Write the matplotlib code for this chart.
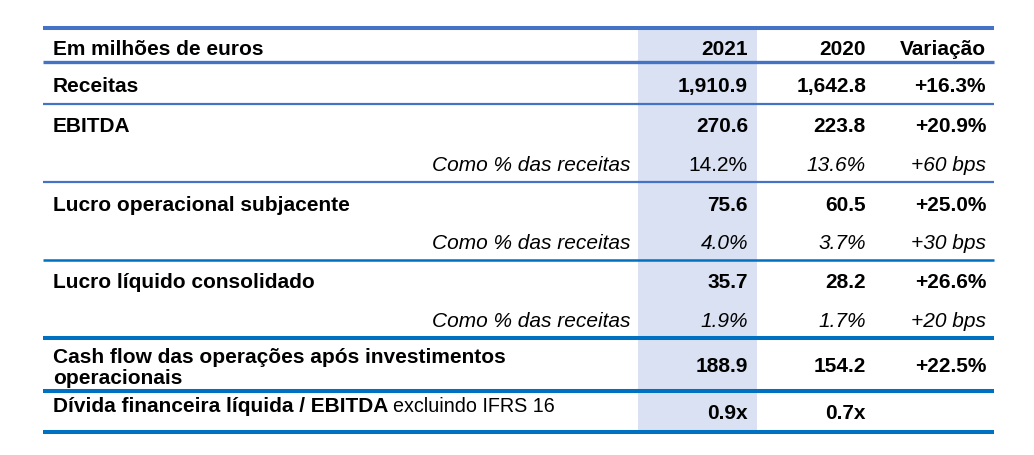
import matplotlib.pyplot as plt
from matplotlib.patches import Rectangle

plt.rcParams['font.family'] = ['Liberation Sans', 'DejaVu Sans']

# table content
header = ['Em milhões de euros', '2021', '2020', 'Variação']
labels = ['Receitas', 'EBITDA', 'Como % das receitas', 'Lucro operacional subjacente',
          'Como % das receitas', 'Lucro líquido consolidado', 'Como % das receitas',
          'Cash flow das operações após investimentos\noperacionais',
          'Dívida financeira líquida / EBITDA']
label_suffix = ['', '', '', '', '', '', '', '', 'excluindo IFRS 16']
v2021 = ['1,910.9', '270.6', '14.2%', '75.6', '4.0%', '35.7', '1.9%', '188.9', '0.9x']
v2020 = ['1,642.8', '223.8', '13.6%', '60.5', '3.7%', '28.2', '1.7%', '154.2', '0.7x']
variation = ['+16.3%', '+20.9%', '+60 bps', '+25.0%', '+30 bps', '+26.6%', '+20 bps', '+22.5%', '']
is_pct_row = [False, False, True, False, True, False, True, False, False]
upright_2021 = [False, False, True, False, False, False, False, False, False]

# layout (pixels)
W, H = 1034, 456
x_left, x_right = 43, 994
x_label, x_pct_label = 53, 630
x_cols = [748, 866, 986]
shade_x0, shade_x1 = 638, 757
header_base = 55
row_base = [92, 132, 171, 211, 249, 288, 327, 372, 419]
# multi-line labels are anchored on their last line
label_base = [92, 132, 171, 211, 249, 288, 327, 384, 412]
rules = [(29, 2.9, '#4472C4'), (63, 2.4, '#4472C4'), (105, 1.6, '#4472C4'),
         (183, 1.6, '#4472C4'), (261, 1.8, '#0070C0'), (339, 2.9, '#0070C0'),
         (392, 2.9, '#0070C0'), (433, 2.9, '#0070C0')]
fs = 15

fig = plt.figure(figsize=(W / 100, H / 100), dpi=100)
ax = fig.add_axes([0, 0, 1, 1])
ax.set_xlim(0, W)
ax.set_ylim(H, 0)
ax.axis('off')

ax.add_patch(Rectangle((shade_x0, 31), shade_x1 - shade_x0, 401,
                       facecolor='#D9E1F2', edgecolor='none', zorder=0))
for y, lw, c in rules:
    ax.plot([x_left, x_right], [y, y], color=c, lw=lw, solid_capstyle='butt', zorder=2)

ax.text(x_label, header_base, header[0], fontsize=fs, fontweight='bold', va='baseline')
for x, h in zip(x_cols, header[1:]):
    ax.text(x, header_base, h, fontsize=fs, fontweight='bold', va='baseline', ha='right')

renderer = fig.canvas.get_renderer()
for i, lab in enumerate(labels):
    if is_pct_row[i]:
        ax.text(x_pct_label, label_base[i], lab, fontsize=fs, style='italic',
                va='baseline', ha='right')
        st = ['normal' if upright_2021[i] else 'italic', 'italic', 'italic']
        for x, v, s in zip(x_cols, [v2021[i], v2020[i], variation[i]], st):
            ax.text(x, row_base[i], v, fontsize=fs, style=s, va='baseline', ha='right')
    else:
        t = ax.text(x_label, label_base[i], lab, fontsize=fs, fontweight='bold',
                    va='baseline', linespacing=1.1)
        if label_suffix[i]:
            bb = t.get_window_extent(renderer).transformed(ax.transData.inverted())
            ax.text(max(bb.x0, bb.x1) + 5, label_base[i], label_suffix[i],
                    fontsize=fs * 0.95, va='baseline')
        for x, v in zip(x_cols, [v2021[i], v2020[i], variation[i]]):
            ax.text(x, row_base[i], v, fontsize=fs, fontweight='bold', va='baseline', ha='right')

fig.savefig('out.png', dpi=100, facecolor='white')
